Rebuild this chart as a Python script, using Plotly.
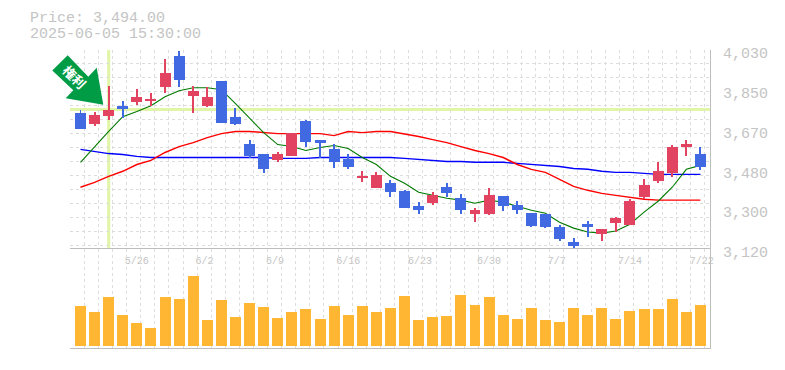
import plotly.graph_objects as go

opens = [3757,3707,3743,3789,3807,3812,3875,4016,3834,3789,3903,3739,3616,3566,3539,3561,3721,3630,3589,3543,3461,3411,3434,3398,3329,3343,3416,3366,3293,3293,3375,3334,3297,3293,3234,3166,3247,3202,3252,3243,3370,3443,3480,3598,3566]
highs = [3771,3758,3880,3812,3866,3848,4003,4039,3880,3875,3903,3780,3630,3570,3575,3666,3725,3630,3616,3566,3489,3484,3448,3402,3347,3393,3434,3384,3320,3411,3375,3352,3297,3293,3243,3184,3261,3225,3279,3361,3452,3530,3611,3634,3602]
lows = [3684,3695,3725,3734,3793,3789,3848,3875,3757,3784,3711,3702,3548,3480,3530,3557,3602,3552,3502,3498,3438,3411,3370,3320,3293,3334,3370,3293,3257,3288,3307,3293,3234,3229,3170,3138,3188,3170,3211,3243,3361,3434,3461,3557,3493]
closes = [3684,3748,3771,3775,3830,3821,3939,3907,3857,3830,3711,3707,3561,3498,3570,3666,3625,3620,3530,3507,3466,3470,3393,3320,3311,3379,3388,3311,3311,3379,3329,3311,3238,3234,3179,3147,3234,3225,3275,3352,3425,3489,3602,3616,3507]
ma_short = [3530,3602,3671,3739,3762,3789,3830,3857,3871,3871,3862,3798,3734,3666,3611,3602,3584,3598,3607,3593,3552,3520,3466,3434,3393,3379,3366,3357,3343,3357,3347,3329,3311,3297,3256,3229,3211,3206,3216,3247,3302,3352,3416,3498,3516]
ma_mid = [3416,3438,3466,3489,3520,3539,3575,3602,3620,3643,3661,3671,3671,3666,3661,3661,3661,3661,3652,3671,3666,3671,3671,3661,3648,3634,3620,3602,3584,3570,3552,3520,3498,3484,3452,3420,3402,3388,3379,3370,3361,3357,3357,3357,3357]
ma_long = [3589,3580,3570,3566,3557,3552,3552,3552,3552,3552,3552,3552,3552,3552,3548,3548,3548,3552,3552,3552,3552,3552,3552,3548,3543,3539,3534,3534,3530,3530,3530,3525,3520,3516,3511,3502,3498,3489,3484,3484,3479,3475,3475,3475,3475]
volumes = [120,102,150,93,69,54,150,144,213,78,138,87,129,117,84,102,111,81,120,93,120,102,114,153,78,87,90,156,123,150,93,81,114,78,72,114,93,114,81,105,111,111,144,102,123]
date_labels = ["5/26","6/2","6/9","6/16","6/23","6/30","7/7","7/14","7/22"]
date_positions = [4.0,8.8,13.8,19.0,24.1,29.0,33.8,39.0,44.1]
price_labels = ["4,030","3,850","3,670","3,480","3,300","3,120"]
price_ticks = [4030,3850,3666,3484,3302,3120]
marker_index = 2
marker_price = 3771
header_lines = ["Price: 3,494.00","2025-06-05 15:30:00"]
marker_text = "権利"

RED = "#E24360"
BLUE = "#4169E1"
ORANGE = "#FFB733"
LIME = "#E1F5A6"
GRID = "#DDDDDD"
TXT = "#C4C4C4"
AXIS = "#BDBDBD"
FONT = "Liberation Mono, monospace"
W, H = 785, 370
L, R, T, B = 70, 75, 50, 19
PW, PH = W - L - R, H - T - B

def px(x):
    return (x - L) / PW

def py(y):
    return 1 - (y - T) / PH

xs = list(range(len(opens)))
cols = [RED if c >= o else BLUE for o, c in zip(opens, closes)]
fig = go.Figure()

for vals, col, lw in [(ma_long, "#0000FF", 1.4), (ma_mid, "#FF0000", 1.4), (ma_short, "#007A00", 1.1)]:
    fig.add_trace(go.Scatter(x=xs, y=vals, mode="lines", line=dict(color=col, width=lw), xaxis="x", yaxis="y", hoverinfo="skip"))

fig.add_trace(go.Bar(x=xs, base=lows, y=[h - l for h, l in zip(highs, lows)], width=0.07,
                     marker=dict(color=cols, line_width=0), xaxis="x", yaxis="y3"))
fig.add_trace(go.Bar(x=xs, base=[min(o, c) for o, c in zip(opens, closes)],
                     y=[abs(o - c) for o, c in zip(opens, closes)], width=0.78,
                     marker=dict(color=cols, line_width=0), xaxis="x", yaxis="y3"))
fig.add_trace(go.Bar(x=xs, y=volumes, width=0.78, marker=dict(color=ORANGE, line_width=0), xaxis="x2", yaxis="y2"))

XR = [-0.745, 44.68]
minor_x = dict(showgrid=True, gridcolor=GRID, griddash="3px,3px", gridwidth=1, tick0=-0.72, dtick=1, ticks="")
price_range = [3120, 4043.65]

fig.update_layout(
    width=W, height=H, autosize=False,
    margin=dict(l=L, r=R, t=T, b=B),
    paper_bgcolor="white", plot_bgcolor="rgba(0,0,0,0)",
    showlegend=False, barmode="overlay", bargap=0,
    xaxis=dict(domain=[0, 1], range=XR, anchor="y", tickmode="array", tickvals=date_positions, ticktext=date_labels,
               showgrid=False, zeroline=False, showline=False, ticks="", ticklabelstandoff=1,
               tickfont=dict(family=FONT, size=10, color=TXT), minor=minor_x),
    yaxis=dict(domain=[py(254), 1], range=price_range, side="right", anchor="x", tickmode="array",
               tickvals=price_ticks, ticktext=price_labels, showgrid=False, zeroline=False,
               showline=True, linecolor=AXIS, linewidth=1, ticks="", ticklabelstandoff=9,
               tickfont=dict(family=FONT, size=15, color=TXT),
               minor=dict(showgrid=True, gridcolor=GRID, griddash="3px,3px", gridwidth=1, tick0=3661.5, dtick=64.2, ticks="")),
    yaxis3=dict(overlaying="y", matches="y", side="right", anchor="x", visible=False, range=price_range),
    xaxis2=dict(domain=[0, 1], range=XR, anchor="y2", matches="x", showticklabels=False, showgrid=False, zeroline=False,
                showline=True, mirror=True, linecolor=AXIS, linewidth=1, ticks="", minor=minor_x),
    yaxis2=dict(domain=[0, py(251)], range=[-6, 294], side="right", anchor="x2", showgrid=False, zeroline=False,
                showticklabels=False, showline=True, linecolor=AXIS, linewidth=1, ticks=""),
    shapes=[
        dict(type="line", xref="x", yref="y domain", x0=marker_index, x1=marker_index, y0=0.015, y1=1,
             line=dict(color=LIME, width=3), layer="below"),
        dict(type="line", xref="x domain", yref="y", x0=0, x1=1, y0=marker_price, y1=marker_price,
             line=dict(color=LIME, width=3), layer="below"),
        dict(type="path", xref="paper", yref="paper", fillcolor="#009B45", line_width=0, layer="above",
             path="M {} {} L {} {} L {} {} L {} {} L {} {} L {} {} L {} {} Z".format(
                 px(103.3), py(105.3), px(96.7), py(68), px(88.3), py(77), px(67.7), py(55.3),
                 px(52.3), py(70.7), px(73.3), py(90.7), px(65.7), py(98.7))),
    ],
    annotations=[
        dict(xref="paper", yref="paper", x=px(27.5), y=py(18.5), text=header_lines[0], showarrow=False, xanchor="left",
             yanchor="middle", font=dict(family=FONT, size=15, color=TXT)),
        dict(xref="paper", yref="paper", x=px(27.5), y=py(34), text=header_lines[1], showarrow=False, xanchor="left",
             yanchor="middle", font=dict(family=FONT, size=15, color=TXT)),
        dict(xref="paper", yref="paper", x=px(74.5), y=py(76.5), text="<b>" + marker_text + "</b>", showarrow=False, textangle=45,
             xanchor="center", yanchor="middle", font=dict(family="Noto Sans CJK JP", size=13, color="white")),
    ],
)
fig.write_html("out.html", config={"displayModeBar": False},
               post_script="document.body.style.margin='0';document.documentElement.style.overflow='hidden';")
